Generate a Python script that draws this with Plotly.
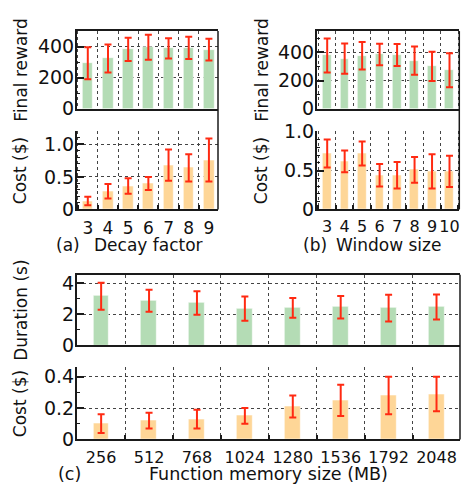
import plotly.graph_objects as go

W, H = 463, 495

# ---------------- data ----------------
decay_cats = ["3", "4", "5", "6", "7", "8", "9"]
decay_reward = [293, 324, 382, 396, 388, 392, 380]
decay_reward_err = [103, 90, 75, 80, 65, 71, 70]
decay_cost = [0.13, 0.28, 0.36, 0.40, 0.68, 0.64, 0.76]
decay_cost_err = [0.065, 0.11, 0.12, 0.10, 0.24, 0.21, 0.33]

window_cats = ["3", "4", "5", "6", "7", "8", "9", "10"]
window_reward = [377, 355, 375, 384, 380, 341, 300, 273]
window_reward_err = [120, 107, 97, 76, 78, 100, 103, 120]
window_cost = [0.72, 0.62, 0.72, 0.44, 0.44, 0.51, 0.49, 0.49]
window_cost_err = [0.18, 0.14, 0.155, 0.145, 0.17, 0.165, 0.22, 0.20]

mem_cats = ["256", "512", "768", "1024", "1280", "1536", "1792", "2048"]
mem_duration = [3.17, 2.88, 2.73, 2.37, 2.42, 2.46, 2.40, 2.47]
mem_duration_err = [0.87, 0.71, 0.76, 0.78, 0.64, 0.72, 0.86, 0.80]
mem_cost = [0.10, 0.12, 0.13, 0.15, 0.21, 0.25, 0.28, 0.29]
mem_cost_err = [0.06, 0.05, 0.06, 0.05, 0.07, 0.10, 0.12, 0.11]

GREEN = "#b4dcb5"
ORANGE = "#fed697"
RED = "#ff2a12"
FONT = "DejaVu Sans, Liberation Sans, sans-serif"
FS = 17
YFS = 19
AX = "#1a1a1a"


def px_x(p):
    return p / W


def px_y(p):
    return 1 - p / H


fig = go.Figure()


def add_bar(cats, vals, errs, color, width, xa, ya):
    fig.add_trace(go.Bar(
        x=cats, y=vals, width=width,
        marker=dict(color=color, line=dict(color="rgba(255,255,255,0.7)", width=0.8)),
        error_y=dict(type="data", array=errs, color=RED, thickness=2, width=3.5),
        xaxis=xa, yaxis=ya, showlegend=False,
    ))


add_bar(decay_cats, decay_reward, decay_reward_err, GREEN, 0.53, "x", "y")
add_bar(decay_cats, decay_cost, decay_cost_err, ORANGE, 0.53, "x2", "y2")
add_bar(window_cats, window_reward, window_reward_err, GREEN, 0.5, "x3", "y3")
add_bar(window_cats, window_cost, window_cost_err, ORANGE, 0.5, "x4", "y4")
add_bar(mem_cats, mem_duration, mem_duration_err, GREEN, 0.33, "x5", "y5")
add_bar(mem_cats, mem_cost, mem_cost_err, ORANGE, 0.33, "x6", "y6")

# panel geometry in pixels: (x0, x1, ytop, ybottom)
panels = {
    1: (76.7, 218.0, 21.0, 102.3),
    2: (76.7, 218.0, 126.0, 207.7),
    3: (316.7, 459.3, 21.0, 102.3),
    4: (316.7, 459.3, 126.0, 207.7),
    5: (76.7, 460.0, 276.0, 350.0),
    6: (76.7, 460.0, 373.0, 448.3),
}
xcats = {1: decay_cats, 2: decay_cats, 3: window_cats, 4: window_cats, 5: mem_cats, 6: mem_cats}
xfs = {1: FS, 2: FS, 3: 16, 4: 16, 5: 16, 6: 16}
xstand = {1: 2, 2: 2, 3: 2, 4: 2, 5: 3, 6: 3}
xranges = {1: [-0.55, 6.45], 2: [-0.55, 6.45], 3: [-0.6, 7.56], 4: [-0.6, 7.56],
           5: [-0.51, 7.49], 6: [-0.51, 7.49]}
yranges = {1: [0, 500], 2: [0, 1.2], 3: [0, 550], 4: [0, 1.005], 5: [0, 4.55], 6: [0, 0.46]}
ytickvals = {1: [0, 200, 400], 2: [0, 0.5, 1.0], 3: [0, 200, 400], 4: [0, 0.5, 1.0],
             5: [0, 2, 4], 6: [0, 0.2, 0.4]}
yticktext = {1: ["0", "200", "400"], 2: ["0", "0.5", "1.0"], 3: ["0", "200", "400"],
             4: ["0", "0.5", "1.0"], 5: ["0", "2", "4"], 6: ["0", "0.2", "0.4"]}
yminor = {1: 100, 2: 0.1, 3: 100, 4: 0.1, 5: 1, 6: 0.1}

layout = dict(
    width=W, height=H, margin=dict(l=0, r=0, t=0, b=0),
    paper_bgcolor="white", plot_bgcolor="white",
    font=dict(family=FONT, size=FS, color="#111"),
    bargap=0, showlegend=False,
)

for i, (x0, x1, yt, yb) in panels.items():
    xs = "xaxis" if i == 1 else f"xaxis{i}"
    ys = "yaxis" if i == 1 else f"yaxis{i}"
    top = i in (1, 3, 5)
    layout[xs] = dict(
        domain=[px_x(x0), px_x(x1)], anchor="y" if i == 1 else f"y{i}",
        type="category", range=xranges[i], tickson="boundaries",
        tickmode="array", tickvals=xcats[i], ticktext=xcats[i], tickangle=0,
        showgrid=True, gridcolor="#444", griddash="dot", gridwidth=1,
        showline=True, linecolor=AX, linewidth=1.5, mirror=top,
        ticks="" if top else "inside", ticklen=5, tickcolor=AX, tickwidth=1.5,
        showticklabels=not top, tickfont=dict(size=xfs[i]), zeroline=False,
        ticklabelstandoff=xstand[i],
    )
    layout[ys] = dict(
        domain=[px_y(yb), px_y(yt)], anchor="x" if i == 1 else f"x{i}",
        range=yranges[i], tickmode="array", tickvals=ytickvals[i], ticktext=yticktext[i],
        showgrid=True, gridcolor="#444", griddash="dot", gridwidth=1,
        showline=True, linecolor=AX, linewidth=1.5,
        ticks="inside", ticklen=8, tickcolor=AX, tickwidth=1.5,
        minor=dict(ticks="inside", ticklen=4, tickcolor=AX, tickwidth=1.2,
                   tickmode="linear", tick0=0, dtick=yminor[i], showgrid=False),
        tickfont=dict(size=YFS), zeroline=False, ticklabelstandoff=-3,
    )

fig.update_layout(**layout)

# right borders spanning both stacked panels
shapes = []
for (x, yt, yb) in [(218.0, 21.0, 207.7), (459.3, 21.0, 207.7), (460.0, 276.0, 448.3)]:
    shapes.append(dict(type="line", xref="paper", yref="paper",
                       x0=px_x(x), x1=px_x(x), y0=px_y(yb), y1=px_y(yt),
                       line=dict(color=AX, width=1.5)))
fig.update_layout(shapes=shapes)

ann = []


def text(t, x, y, angle=0, size=FS):
    ann.append(dict(text=t, x=px_x(x), y=px_y(y), xref="paper", yref="paper",
                    showarrow=False, textangle=angle, xanchor="center", yanchor="middle",
                    font=dict(family=FONT, size=size, color="#111")))


text("Final reward", 20.7, 61.7, -90)
text("Cost ($)", 20.7, 166.9, -90)
text("Final reward", 261.7, 61.7, -90)
text("Cost ($)", 261.7, 166.9, -90)
text("Duration (s)", 20.7, 313.0, -90)
text("Cost ($)", 20.7, 410.7, -90)
text("(a)", 67.5, 244.5)
text("Decay factor", 148.0, 244.5)
text("(b)", 315.0, 244.5)
text("Window size", 388.0, 244.5)
text("(c)", 69.0, 484.5, size=17.5)
text("Function memory size (MB)", 268.0, 484.5, size=17.5)
fig.update_layout(annotations=ann)

fig.write_html("out.html")
